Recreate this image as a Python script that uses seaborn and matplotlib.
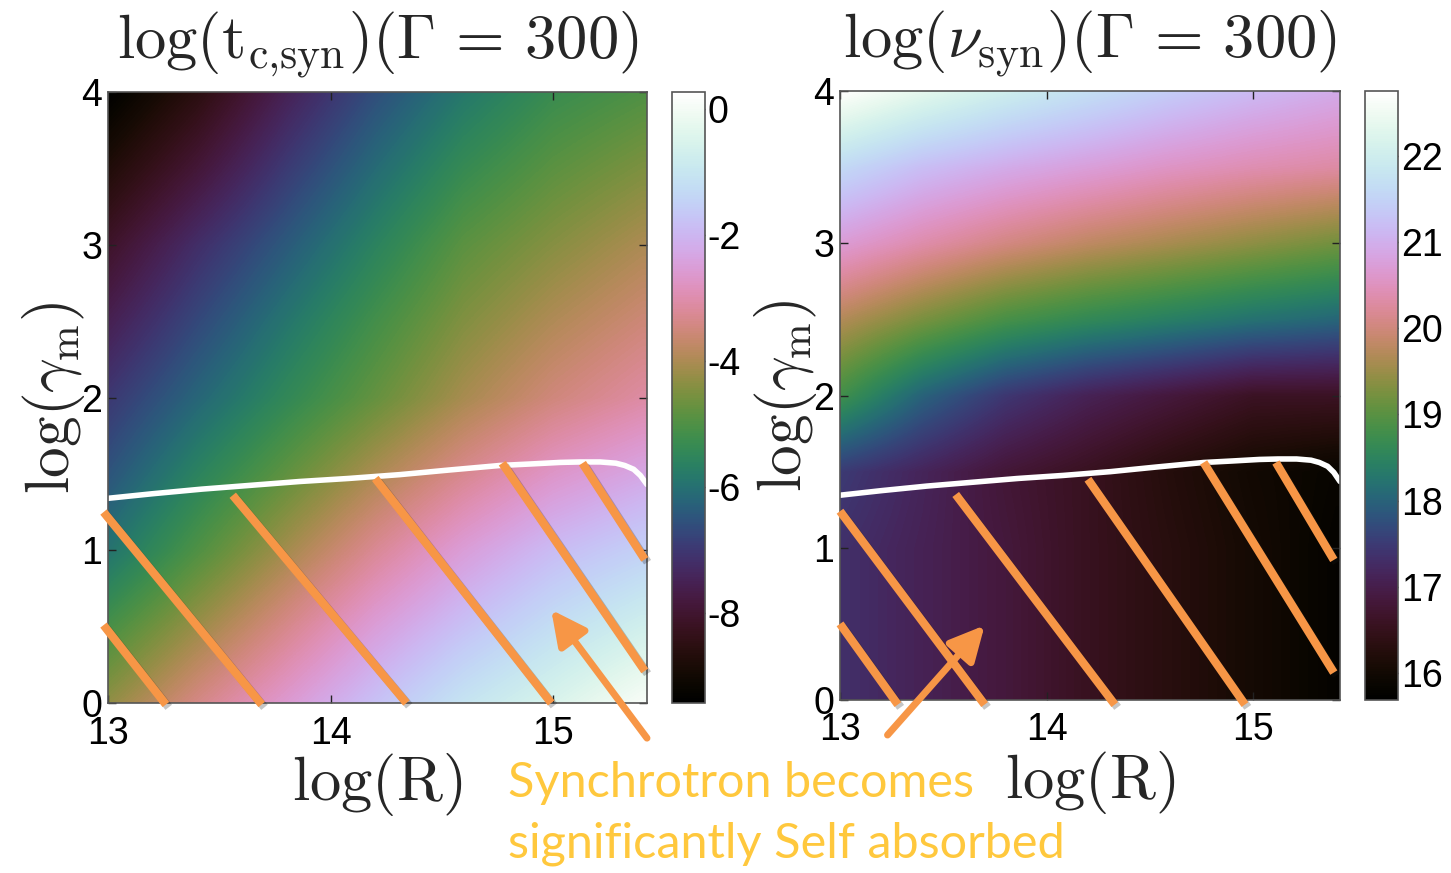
import numpy as np
import matplotlib
matplotlib.use("Agg")
import matplotlib.pyplot as plt
import matplotlib.patheffects as pe
import seaborn as sns

sns.set_theme(style="white")
plt.rcParams["mathtext.fontset"] = "cm"
plt.rcParams["font.family"] = ["Liberation Sans", "DejaVu Sans"]
plt.rcParams["axes.unicode_minus"] = False

# ---------------- data ----------------
log_R = [13.0, 13.4, 13.8, 14.2, 14.6, 15.0, 15.4]
log_gamma = [0.0, 0.5, 1.0, 1.5, 2.0, 2.5, 3.0, 3.5, 4.0]

# log(t_c,syn), rows = log_gamma (bottom -> top), cols = log_R
t_row_g00 = [-4.3, -3.4, -2.6, -1.8, -1.05, -0.5, 0.1]
t_row_g05 = [-5.1, -4.2, -3.35, -2.5, -1.8, -1.2, -0.7]
t_row_g10 = [-5.95, -5.0, -4.1, -3.25, -2.5, -1.9, -1.5]
t_row_g15 = [-6.5, -5.6, -4.8, -4.0, -3.3, -2.7, -2.3]
t_row_g20 = [-7.0, -6.2, -5.45, -4.75, -4.05, -3.5, -3.1]
t_row_g25 = [-7.55, -6.7, -5.9, -5.15, -4.45, -3.95, -3.55]
t_row_g30 = [-8.1, -7.2, -6.4, -5.6, -4.85, -4.4, -4.0]
t_row_g35 = [-8.75, -7.9, -6.95, -6.1, -5.35, -4.85, -4.5]
t_row_g40 = [-9.4, -8.55, -7.5, -6.6, -5.85, -5.3, -5.0]

# log(nu_syn)
nu_row_g00 = [17.35, 17.1, 16.85, 16.55, 16.3, 16.05, 15.8]
nu_row_g05 = [17.35, 17.1, 16.85, 16.55, 16.3, 16.05, 15.8]
nu_row_g10 = [17.35, 17.1, 16.85, 16.55, 16.3, 16.05, 15.8]
nu_row_g15 = [17.5, 17.15, 16.8, 16.55, 16.25, 16.0, 15.85]
nu_row_g20 = [18.8, 18.0, 17.45, 17.1, 16.85, 16.6, 16.6]
nu_row_g25 = [19.7, 19.25, 18.85, 18.6, 18.4, 18.2, 18.05]
nu_row_g30 = [20.7, 20.35, 20.05, 19.8, 19.6, 19.4, 19.2]
nu_row_g35 = [21.6, 21.2, 20.95, 20.75, 20.55, 20.4, 20.3]
nu_row_g40 = [22.75, 22.35, 22.0, 21.7, 21.4, 21.15, 20.95]

t_limits = [-9.43, 0.27]
nu_limits = [15.69, 22.75]
t_ticks = [-8, -6, -4, -2, 0]
nu_ticks = [16, 17, 18, 19, 20, 21, 22]
x_ticks = [13, 14, 15]
y_ticks = [0, 1, 2, 3, 4]

# self-absorption boundary (white curve)
sa_R = [13.0, 13.2, 13.42, 13.64, 13.86, 14.08, 14.31, 14.53, 14.76, 14.9, 15.03,
        15.12, 15.21, 15.28, 15.32, 15.36, 15.39, 15.42]
sa_gamma = [1.34, 1.37, 1.40, 1.425, 1.45, 1.47, 1.495, 1.525, 1.555, 1.565, 1.575,
            1.578, 1.578, 1.57, 1.555, 1.53, 1.49, 1.43]

# orange hatch segments (R0, g0, R1, g1)
hatch_left = [
    (12.98, 0.51, 13.26, -0.01),
    (12.98, 1.25, 13.69, -0.01),
    (13.56, 1.36, 14.34, 0.0),
    (14.20, 1.47, 14.99, 0.0),
    (14.77, 1.57, 15.41, 0.21),
    (15.13, 1.57, 15.41, 0.94),
]
hatch_right = [
    (13.0, 0.50, 13.28, -0.03),
    (13.0, 1.24, 13.70, -0.03),
    (13.56, 1.35, 14.33, -0.03),
    (14.20, 1.45, 14.96, -0.03),
    (14.76, 1.56, 15.39, 0.18),
    (15.11, 1.56, 15.39, 0.92),
]
arrow_left = ((15.42, -0.23), (14.99, 0.61))
arrow_right = ((13.23, -0.23), (13.70, 0.49))

note_text = ["Synchrotron becomes", "significantly Self absorbed"]

# ---------------- figure ----------------
W, H = 1451, 873
fig = plt.figure(figsize=(W / 100, H / 100), dpi=100)
fig.patch.set_facecolor("white")

cmap = sns.cubehelix_palette(start=1.4, rot=-1.85, gamma=1.0, hue=1.05,
                             light=1.0, dark=0.0, reverse=True, as_cmap=True)

def box(x0, y0, x1, y1):
    return [x0 / W, 1 - y1 / H, (x1 - x0) / W, (y1 - y0) / H]

orange = "#F79646"
shadow = [pe.SimpleLineShadow(offset=(2, -2), alpha=0.25, shadow_color="k"), pe.Normal()]

def panel(ax_box, cb_box, rows, limits, cticks, title, hatches, arrow, sa_curve):
    ax = fig.add_axes(box(*ax_box))
    cax = fig.add_axes(box(*cb_box))
    grid = np.array(rows)
    dR = log_R[1] - log_R[0]
    dg = log_gamma[1] - log_gamma[0]
    im = ax.imshow(grid, origin="lower", aspect="auto", cmap=cmap,
                   vmin=limits[0], vmax=limits[1], interpolation="bilinear",
                   extent=[log_R[0] - dR / 2, log_R[-1] + dR / 2,
                           log_gamma[0] - dg / 2, log_gamma[-1] + dg / 2])
    ax.set_xlim(13, 15.42)
    ax.set_ylim(0, 4)
    ax.set_xticks(x_ticks)
    ax.set_yticks(y_ticks)
    ax.tick_params(direction="in", length=6, width=1, colors="#222222",
                   labelsize=27, labelcolor="black", top=True, right=True,
                   bottom=True, left=True, pad=4)
    ax.tick_params(axis="x", pad=9)
    for s in ax.spines.values():
        s.set_color("#555555")
        s.set_linewidth(1.2)
    ax.set_title(title, fontsize=45, pad=24)
    ax.set_xlabel(r"$\log(\mathrm{R})$", fontsize=45, labelpad=0)
    ax.set_ylabel(r"$\log(\gamma_{\mathrm{m}})$", fontsize=44, labelpad=-4)
    sns.lineplot(x=sa_curve[0], y=sa_curve[1], sort=False, color="white",
                 lw=4, ax=ax, estimator=None)
    for (r0, g0, r1, g1) in hatches:
        ax.plot([r0, r1], [g0, g1], color=orange, lw=6, solid_capstyle="butt",
                clip_on=False, path_effects=shadow, zorder=5)
    ax.annotate("", xy=arrow[1], xytext=arrow[0], annotation_clip=False,
                arrowprops=dict(arrowstyle="-|>,head_length=0.7,head_width=0.35",
                                color=orange, lw=5, mutation_scale=30,
                                shrinkA=0, shrinkB=0), zorder=6)
    cb = fig.colorbar(im, cax=cax)
    cb.set_ticks(cticks)
    cb.ax.tick_params(direction="in", length=6, width=1, labelsize=27,
                      left=True, right=True, pad=2, colors="#222222",
                      labelcolor="black")
    cb.outline.set_edgecolor("#555555")
    cb.outline.set_linewidth(1.2)
    return ax

ax1 = panel((108, 92, 647, 703), (672, 92, 705, 703),
            [t_row_g00, t_row_g05, t_row_g10, t_row_g15, t_row_g20,
             t_row_g25, t_row_g30, t_row_g35, t_row_g40],
            t_limits, t_ticks,
            r"$\log(\mathrm{t}_{\mathrm{c{,}syn}})(\Gamma\,=\,300)$",
            hatch_left, arrow_left, (sa_R, sa_gamma))
ax2 = panel((840, 91, 1340, 700), (1365, 91, 1398, 700),
            [nu_row_g00, nu_row_g05, nu_row_g10, nu_row_g15, nu_row_g20,
             nu_row_g25, nu_row_g30, nu_row_g35, nu_row_g40],
            nu_limits, nu_ticks,
            r"$\log(\nu_{\mathrm{syn}})(\Gamma\,=\,300)$",
            hatch_right, arrow_right, (sa_R, [g + 0.005 for g in sa_gamma]))

fig.text(508 / W, 1 - 797 / H, note_text[0], color="#FFC83D", fontsize=35,
         family=["Lato", "DejaVu Sans"], va="baseline", ha="left")
fig.text(508 / W, 1 - 858 / H, note_text[1], color="#FFC83D", fontsize=35,
         family=["Lato", "DejaVu Sans"], va="baseline", ha="left")

fig.savefig("out.png", dpi=100, facecolor="white")
